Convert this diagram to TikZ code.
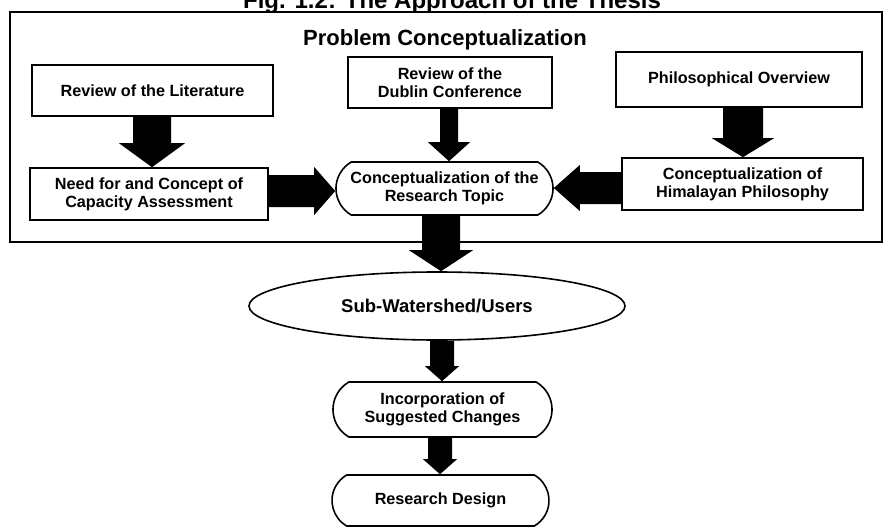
\documentclass[tikz,border=0pt]{standalone}
\usepackage{fontspec}
\setmainfont{Liberation Sans}
\usetikzlibrary{calc,shapes.misc,shapes.geometric}

\tikzset{
  lbl/.style={font=\bfseries\fontsize{16.2}{18}\selectfont, align=center, text=black, inner sep=0pt},
  box/.style={lbl, draw, line width=1.6pt, rectangle},
  pill/.style={lbl, draw, line width=1.6pt, rounded rectangle, rounded rectangle arc length=120},
  oval/.style={lbl, draw, line width=1.6pt, ellipse, font=\bfseries\fontsize{18.5}{22}\selectfont},
  frame/.style={draw, line width=1.8pt},
}

% Thick block arrows between two named nodes.
% \blockdown{from}{to}{x}{shaft half width}{head half width}{head length}
\newcommand{\blockdown}[6]{%
  \fill let \p1=(#1.south), \p2=(#2.north) in
    ({#3pt-#4pt},\y1) -- ({#3pt-#4pt},{\y2+#6pt}) -- ({#3pt-#5pt},{\y2+#6pt})
    -- (#3pt,\y2) -- ({#3pt+#5pt},{\y2+#6pt}) -- ({#3pt+#4pt},{\y2+#6pt})
    -- ({#3pt+#4pt},\y1) -- cycle;}
% \blockright{from}{to}{y}{shaft half width}{head half width}{head length}
\newcommand{\blockright}[6]{%
  \fill let \p1=(#1.east), \p2=(#2.west) in
    (\x1,{#3pt+#4pt}) -- ({\x2-#6pt},{#3pt+#4pt}) -- ({\x2-#6pt},{#3pt+#5pt})
    -- (\x2,#3pt) -- ({\x2-#6pt},{#3pt-#5pt}) -- ({\x2-#6pt},{#3pt-#4pt})
    -- (\x1,{#3pt-#4pt}) -- cycle;}
% \blockleft{from}{to}{y}{shaft half width}{head half width}{head length}
\newcommand{\blockleft}[6]{%
  \fill let \p1=(#1.west), \p2=(#2.east) in
    (\x1,{#3pt+#4pt}) -- ({\x2+#6pt},{#3pt+#4pt}) -- ({\x2+#6pt},{#3pt+#5pt})
    -- (\x2,#3pt) -- ({\x2+#6pt},{#3pt-#5pt}) -- ({\x2+#6pt},{#3pt-#4pt})
    -- (\x1,{#3pt-#4pt}) -- cycle;}

\begin{document}
\begin{tikzpicture}[x=1pt,y=1pt]
  \useasboundingbox (0,0) rectangle (887,-527);
  \clip (0,0) rectangle (887,-527);
  \fill[white] (0,0) rectangle (887,-527);

  % caption (runs off the top edge)
  \node[font=\bfseries\fontsize{24}{28}\selectfont, anchor=base] (title) at (452,-9)
    {Fig. 1.2: The Approach of the Thesis};

  % problem conceptualization frame
  \draw[frame] (10,-12) rectangle (882,-242);
  \node[font=\bfseries\fontsize{22}{26}\selectfont] (head) at (445,-40) {Problem Conceptualization};

  % top row
  \node[box, minimum width=241, minimum height=51] (lit) at (152.5,-90.5) {Review of the Literature};
  \node[box, minimum width=204, minimum height=51] (dub) at (450,-82.5) {Review of the\\Dublin Conference};
  \node[box, minimum width=246, minimum height=55] (phil) at (739,-79.5) {Philosophical Overview};

  % middle row
  \node[box, minimum width=238, minimum height=52] (need) at (149,-194) {Need for and Concept of\\Capacity Assessment};
  \node[pill, minimum width=217, minimum height=53] (topic) at (444.5,-188.5) {Conceptualization of the\\Research Topic};
  \node[box, minimum width=241, minimum height=52] (him) at (742.5,-184) {Conceptualization of\\Himalayan Philosophy};

  % lower chain
  \node[oval, minimum width=376, minimum height=68] (sub) at (437,-306) {Sub-Watershed/Users};
  \node[pill, minimum width=219, minimum height=55] (inc) at (442.5,-409.5) {Incorporation of\\Suggested Changes};
  \node[pill, minimum width=217, minimum height=51] (rd) at (440.5,-500.5) {Research Design};

  % block arrows
  \blockdown{lit}{need}{152}{19}{33}{24}
  \blockdown{dub}{topic}{449}{9}{21}{19}
  \blockdown{phil}{him}{743}{20}{31}{19}
  \blockright{need}{topic}{-191}{16}{24}{21}
  \blockleft{him}{topic}{-188}{16}{23}{26}
  \blockdown{topic}{sub}{441}{19}{32}{21}
  \blockdown{sub}{inc}{442}{12}{17}{15}
  \blockdown{inc}{rd}{440}{12}{17}{15}
\end{tikzpicture}
\end{document}
